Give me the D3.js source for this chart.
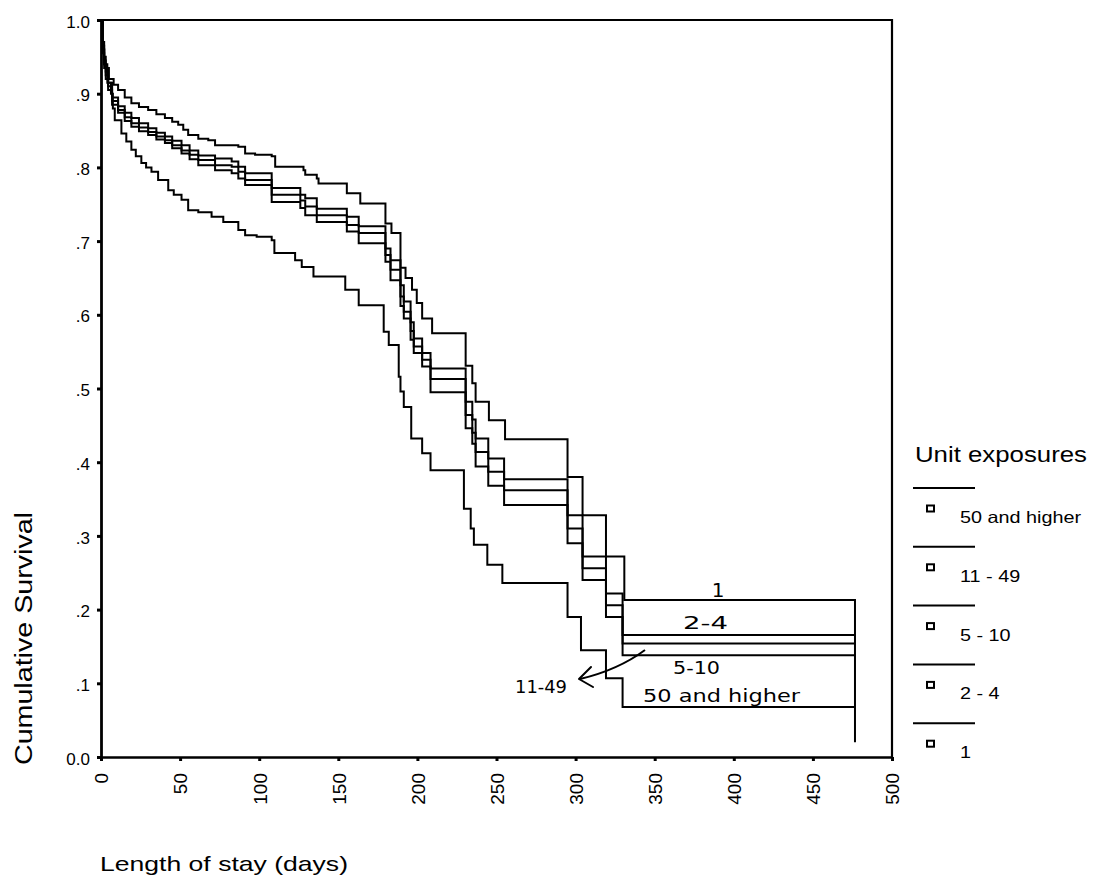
<!DOCTYPE html>
<html>
<head>
<meta charset="utf-8">
<script src="https://cdn.jsdelivr.net/npm/d3@7"></script>
<style>
  body { margin: 0; background: #fff; }
  svg { display: block; }
  text { font-family: "Liberation Sans", Arial, sans-serif; fill: #000; }
</style>
</head>
<body>
<svg id="chart" width="1102" height="886"></svg>
<script>
// Kaplan-Meier survival by number of unit exposures
const groupNames = ["50 and higher", "11 - 49", "5 - 10", "2 - 4", "1"];

const xTicks = [0, 50, 100, 150, 200, 250, 300, 350, 400, 450, 500];
const yTicks = [0, 0.1, 0.2, 0.3, 0.4, 0.5, 0.6, 0.7, 0.8, 0.9, 1.0];
const yTickLabels = ["0.0", ".1", ".2", ".3", ".4", ".5", ".6", ".7", ".8", ".9", "1.0"];

// group "1"
const days1 = [0, 1, 2, 3, 5, 8, 10.8, 15, 19.2, 24, 29.8, 35, 40.4, 45, 48.8, 52, 55.1, 61.5, 67.8, 72.1,
  86.8, 91.1, 97.4, 107.9, 110.1, 128, 129.1, 136.4, 137.5, 155.4, 163.9, 179.8, 183.6, 189.3, 192.5, 196.6,
  199.6, 203, 209.3, 230.5, 234.7, 236.8, 245.2, 255.4, 294.9, 304.4, 319.2, 330.8, 476.6];
const surv1 = [1.0, 0.97, 0.95, 0.935, 0.92, 0.912, 0.905, 0.895, 0.887, 0.882, 0.878, 0.872, 0.867, 0.862, 0.858,
  0.851, 0.844, 0.839, 0.837, 0.830, 0.828, 0.819, 0.817, 0.815, 0.801, 0.796, 0.790, 0.785, 0.778, 0.765,
  0.751, 0.724, 0.711, 0.664, 0.650, 0.634, 0.616, 0.595, 0.575, 0.531, 0.507, 0.482, 0.457, 0.431, 0.380,
  0.328, 0.272, 0.213, 0.02];

// groups "2 - 4", "5 - 10" and "11 - 49" share their event days
const daysMid = [0, 1, 2, 3, 4.5, 7, 10.8, 15, 19.2, 24, 29.8, 35, 40.4, 45, 50.9, 56, 61.5, 72.1, 82.6, 86.8,
  91.1, 107.9, 126, 129.1, 136.4, 155.4, 162.9, 179.8, 183, 189.3, 191.4, 195.7, 197.7, 203, 208.3, 230.5,
  234.7, 236.8, 244.8, 254.8, 294.9, 304.4, 319.2, 329.7, 476.6];
const surv2to4 = [1.0, 0.965, 0.945, 0.93, 0.915, 0.895, 0.883, 0.874, 0.867, 0.860, 0.853, 0.847, 0.842, 0.836,
  0.830, 0.823, 0.816, 0.812, 0.808, 0.801, 0.792, 0.772, 0.763, 0.758, 0.744, 0.733, 0.720, 0.690, 0.674,
  0.640, 0.618, 0.590, 0.568, 0.548, 0.527, 0.482, 0.458, 0.432, 0.405, 0.377, 0.328, 0.272, 0.222, 0.1655, 0.1655];
const surv11to49 = [1.0, 0.96, 0.94, 0.925, 0.91, 0.89, 0.878, 0.868, 0.860, 0.854, 0.848, 0.842, 0.837, 0.830,
  0.823, 0.817, 0.810, 0.803, 0.801, 0.794, 0.783, 0.763, 0.755, 0.747, 0.735, 0.722, 0.711, 0.681, 0.661,
  0.625, 0.604, 0.578, 0.557, 0.539, 0.513, 0.464, 0.440, 0.414, 0.387, 0.362, 0.310, 0.256, 0.206, 0.154, 0.154];
const surv5to10 = [1.0, 0.955, 0.935, 0.92, 0.905, 0.885, 0.874, 0.863, 0.855, 0.849, 0.844, 0.838, 0.833, 0.826,
  0.819, 0.811, 0.803, 0.796, 0.792, 0.785, 0.776, 0.753, 0.745, 0.735, 0.726, 0.713, 0.697, 0.672, 0.647,
  0.612, 0.595, 0.566, 0.548, 0.530, 0.495, 0.446, 0.425, 0.394, 0.368, 0.342, 0.290, 0.240, 0.190, 0.138, 0.138];

// group "50 and higher"
const days50 = [0, 1, 2, 4, 6.3, 7.5, 8.7, 12.9, 16, 19.2, 22, 25.5, 28.5, 31.9, 36.1, 42.5, 46, 50.9, 55.1, 61.5,
  69.9, 77.3, 86.8, 91.1, 98.4, 107.9, 109.6, 122.7, 126.9, 134.3, 154.4, 162.9, 178.7, 181.9, 188.2, 189.3,
  191.4, 196.1, 203, 208.3, 229.4, 233.7, 235.7, 244.2, 253.7, 294.9, 303.4, 319.2, 329.7, 476.6];
const surv50 = [1.0, 0.96, 0.94, 0.915, 0.90, 0.88, 0.864, 0.846, 0.835, 0.824, 0.815, 0.806, 0.800, 0.794, 0.783,
  0.769, 0.763, 0.756, 0.742, 0.739, 0.733, 0.726, 0.715, 0.708, 0.706, 0.701, 0.684, 0.674, 0.665, 0.652,
  0.634, 0.613, 0.577, 0.559, 0.516, 0.496, 0.475, 0.432, 0.412, 0.389, 0.337, 0.310, 0.288, 0.261, 0.236,
  0.190, 0.145, 0.107, 0.068, 0.068];

// handwritten notes on the curve ends
const noteTexts = ["1", "2-4", "5-10", "50 and higher", "11-49"];

const curves = [
  { days: days50, surv: surv50 },
  { days: daysMid, surv: surv11to49 },
  { days: daysMid, surv: surv5to10 },
  { days: daysMid, surv: surv2to4 },
  { days: days1, surv: surv1 }
];

const svg = d3.select("#chart");
const x = d3.scaleLinear().domain([0, 500]).range([101, 892]);
const y = d3.scaleLinear().domain([0, 1]).range([757, 20]);

// plot frame: top and right sides
svg.append("path")
  .attr("d", `M${x(0)},${y(1)}H${x(500)}V${y(0)}`)
  .attr("fill", "none").attr("stroke", "#000").attr("stroke-width", 2.2);

// y axis
const yAxis = svg.append("g")
  .attr("transform", `translate(${x(0)},0)`)
  .call(d3.axisLeft(y).tickValues(yTicks).tickSize(4).tickSizeOuter(0).tickPadding(7)
    .tickFormat((d, i) => yTickLabels[i]));
yAxis.select(".domain").attr("stroke-width", 2.8);
yAxis.selectAll(".tick line").attr("stroke-width", 3);
yAxis.selectAll(".tick text")
  .attr("font-family", null).attr("font-size", 17).attr("dy", "0.42em");

// x axis
const xAxis = svg.append("g")
  .attr("transform", `translate(0,${y(0)})`)
  .call(d3.axisBottom(x).tickValues(xTicks).tickSize(4).tickSizeOuter(0).tickFormat(d3.format("d")));
xAxis.select(".domain").attr("stroke-width", 2.6);
xAxis.selectAll(".tick line").attr("stroke-width", 3);
xAxis.selectAll(".tick text")
  .attr("font-family", null).attr("font-size", 19)
  .attr("transform", "rotate(-90)")
  .attr("x", -16).attr("y", 0).attr("dy", "0.36em")
  .style("text-anchor", "end");

// axis titles
svg.append("text")
  .attr("transform", "translate(32,765) rotate(-90)")
  .attr("font-size", 23).attr("textLength", 253).attr("lengthAdjust", "spacingAndGlyphs")
  .text("Cumulative Survival");
svg.append("text")
  .attr("x", 100).attr("y", 871)
  .attr("font-size", 21).attr("textLength", 248).attr("lengthAdjust", "spacingAndGlyphs")
  .text("Length of stay (days)");

// survival step curves
const line = d3.line()
  .x(d => x(d[0])).y(d => y(d[1]))
  .curve(d3.curveStepAfter);
svg.append("g").selectAll("path")
  .data(curves)
  .join("path")
  .attr("d", c => line(c.days.map((t, i) => [t, c.surv[i]])))
  .attr("fill", "none").attr("stroke", "#000").attr("stroke-width", 2)
  .attr("stroke-linejoin", "miter");

// legend
const legend = svg.append("g");
legend.append("text")
  .attr("x", 915).attr("y", 462)
  .attr("font-size", 22).attr("textLength", 172).attr("lengthAdjust", "spacingAndGlyphs")
  .text("Unit exposures");
const rows = legend.selectAll("g.row")
  .data(groupNames)
  .join("g")
  .attr("class", "row")
  .attr("transform", (d, i) => `translate(0,${488 + i * 58.8})`);
rows.append("line")
  .attr("x1", 913).attr("x2", 975).attr("y1", 0).attr("y2", 0)
  .attr("stroke", "#000").attr("stroke-width", 2);
rows.append("rect")
  .attr("x", 927).attr("y", 17.5).attr("width", 7).attr("height", 6)
  .attr("fill", "#fff").attr("stroke", "#000").attr("stroke-width", 2);
rows.append("text")
  .attr("x", 960).attr("y", 35)
  .attr("font-size", 16.5)
  .text(d => d)
  .each(function () {
    const w = this.getComputedTextLength();
    d3.select(this).attr("textLength", w * 1.2).attr("lengthAdjust", "spacingAndGlyphs");
  });

// handwritten notes
const notes = svg.append("g").attr("class", "notes");
const noteStyle = sel => sel.style("font-family", "'DejaVu Sans', sans-serif").attr("lengthAdjust", "spacingAndGlyphs");
notes.append("text").call(noteStyle).attr("x", 718).attr("y", 597).attr("font-size", 20)
  .attr("text-anchor", "middle").text(noteTexts[0]);
notes.append("text").call(noteStyle).attr("x", 683).attr("y", 629).attr("font-size", 18)
  .attr("textLength", 45).text(noteTexts[1]);
notes.append("text").call(noteStyle).attr("x", 673).attr("y", 674).attr("font-size", 18)
  .attr("textLength", 47).text(noteTexts[2]);
notes.append("text").call(noteStyle).attr("x", 643).attr("y", 702).attr("font-size", 18)
  .attr("textLength", 157).text(noteTexts[3]);
notes.append("text").call(noteStyle).attr("x", 515).attr("y", 693).attr("font-size", 18)
  .attr("textLength", 52).text(noteTexts[4]);
// arrow from the "11-49" curve end to its note
notes.append("path")
  .attr("d", "M645,650 Q618,670 580,679")
  .attr("fill", "none").attr("stroke", "#000").attr("stroke-width", 2);
notes.append("path")
  .attr("d", "M591,667 L579,679 L593,687")
  .attr("fill", "none").attr("stroke", "#000").attr("stroke-width", 2)
  .attr("stroke-linejoin", "round").attr("stroke-linecap", "round");
</script>
</body>
</html>
